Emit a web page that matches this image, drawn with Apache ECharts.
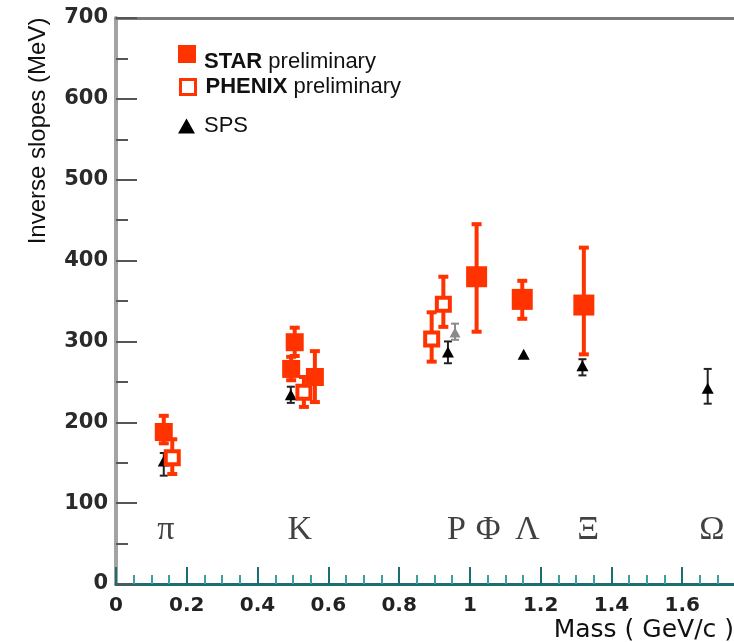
<!DOCTYPE html>
<html>
<head>
<meta charset="utf-8">
<script src="https://cdn.jsdelivr.net/npm/echarts@6/dist/echarts.min.js"></script>
<style>html,body{margin:0;padding:0;background:#fff;}#c{width:734px;height:642px;}</style>
</head>
<body>
<div id="c"></div>
<script>
// [mass (GeV), inverse slope (MeV), error low, error high]
const starPoints = [
  [0.135, 188, 174, 208],
  [0.505, 299, 282, 317],
  [0.495, 266, 252, 281],
  [0.562, 256, 225, 288],
  [1.019, 380, 312, 445],
  [1.148, 352, 328, 375],
  [1.322, 345, 284, 416]
];
const phenixPoints = [
  [0.159, 156, 136, 179],
  [0.531, 237, 219, 256],
  [0.892, 303, 275, 336],
  [0.925, 346, 318, 380]
];
const spsPoints = [
  [0.135, 152, 134, 162],
  [0.494, 234, 224, 244],
  [0.938, 287, 273, 300],
  [1.152, 284, 284, 284],
  [1.318, 270, 258, 278],
  [1.672, 242, 223, 266]
];
const spsGrayPoints = [
  [0.958, 311, 302, 322]
];
const particleNames = ['π', 'K', 'P', 'Φ', 'Λ', 'Ξ', 'Ω'];
const particleMass = [0.141, 0.519, 0.962, 1.052, 1.162, 1.334, 1.684];
const particleLabelSlope = 67;

const RED = '#ff3300';

function errorBars(name, pts, color, lineW, capW, capH, z) {
  return {
    type: 'custom', name: name, z: z, silent: true,
    data: pts.map(p => [p[0], p[2], p[3]]),
    encode: { x: 0, y: [1, 2] },
    renderItem: function (params, api) {
      const x = api.value(0);
      const lo = api.coord([x, api.value(1)]);
      const hi = api.coord([x, api.value(2)]);
      if (Math.abs(lo[1] - hi[1]) < 0.5) return { type: 'group', children: [] };
      return {
        type: 'group',
        children: [
          { type: 'rect', shape: { x: lo[0] - lineW / 2, y: hi[1], width: lineW, height: lo[1] - hi[1] }, style: { fill: color } },
          { type: 'rect', shape: { x: hi[0] - capW / 2, y: hi[1] - capH / 2, width: capW, height: capH }, style: { fill: color } },
          { type: 'rect', shape: { x: lo[0] - capW / 2, y: lo[1] - capH / 2, width: capW, height: capH }, style: { fill: color } }
        ]
      };
    }
  };
}

const chart = echarts.init(document.getElementById('c'), null, { renderer: 'canvas' });
const option = {
  animation: false,
  backgroundColor: '#ffffff',
  grid: { left: 116, top: 18, width: 637, height: 566, containLabel: false, outerBoundsMode: 'none' },
  xAxis: [{
    type: 'value', min: 0, max: 1.8, interval: 0.2, position: 'bottom',
    name: 'Mass ( GeV/c )', nameLocation: 'end', nameGap: -19,
    nameTextStyle: { align: 'right', verticalAlign: 'top', padding: [34, 0, 0, 0], fontFamily: 'DejaVu Sans', fontSize: 25, color: '#111' },
    axisLine: { show: true, onZero: false, lineStyle: { color: '#1a6e70', width: 3 } },
    axisTick: { show: true, inside: true, length: 17, lineStyle: { color: '#1a6e70', width: 2 } },
    minorTick: { show: true, splitNumber: 4, length: 9, lineStyle: { color: '#3f9fa0', width: 2 } },
    axisLabel: { margin: 12, showMaxLabel: false, fontFamily: 'DejaVu Sans', fontWeight: 'bold', fontSize: 20, color: '#222' },
    splitLine: { show: false }
  }, {
    type: 'value', min: 0, max: 1.8, position: 'top',
    axisLine: { show: true, onZero: false, lineStyle: { color: '#7a7a7a', width: 3 } },
    axisTick: { show: false }, axisLabel: { show: false }, splitLine: { show: false }
  }],
  yAxis: {
    type: 'value', min: 0, max: 700, interval: 100,
    axisLine: { show: true, lineStyle: { color: '#a3a3a3', width: 4 } },
    axisTick: { show: true, inside: true, length: 21, lineStyle: { color: '#555', width: 2 } },
    minorTick: { show: true, splitNumber: 2, length: 12, lineStyle: { color: '#555', width: 2 } },
    axisLabel: { margin: 8, fontFamily: 'DejaVu Sans', fontWeight: 'bold', fontSize: 21, color: '#2a2a2a' },
    splitLine: { show: false }
  },
  legend: [{
    data: ['STAR'], orient: 'vertical', left: 173, top: 40, itemWidth: 18, itemHeight: 18, selectedMode: false,
    formatter: function () { return '{b|STAR} preliminary'; },
    textStyle: { fontFamily: 'Liberation Sans', fontSize: 22, color: '#111', padding: [15, 0, 0, 3],
      rich: { b: { fontFamily: 'Liberation Sans', fontWeight: 'bold', fontSize: 22, color: '#111' } } }
  }, {
    data: [{ name: 'PHENIX', itemStyle: { borderWidth: 3 } }], orient: 'vertical', left: 174, top: 71, itemWidth: 15, itemHeight: 15, selectedMode: false,
    formatter: function () { return '{b|PHENIX} preliminary'; },
    textStyle: { fontFamily: 'Liberation Sans', fontSize: 22, color: '#111', padding: [0, 0, 0, 5],
      rich: { b: { fontFamily: 'Liberation Sans', fontWeight: 'bold', fontSize: 22, color: '#111' } } }
  }, {
    data: [{ name: 'SPS', icon: 'triangle' }], orient: 'vertical', left: 173, top: 110, itemWidth: 17, itemHeight: 15, selectedMode: false,
    textStyle: { fontFamily: 'Liberation Sans', fontSize: 22, color: '#111', padding: [0, 0, 0, 4] }
  }],
  graphic: [{
    type: 'text', x: 38, y: 131, rotation: Math.PI / 2, silent: true,
    style: { text: 'Inverse slopes (MeV)', align: 'center', verticalAlign: 'middle', fontFamily: 'Liberation Sans', fontSize: 24, fill: '#111' }
  }],
  series: [
    errorBars('SPS err', spsPoints, '#222', 2, 8, 2, 2),
    errorBars('SPS gray err', spsGrayPoints, '#8a8a8a', 2, 8, 2, 2),
    {
      type: 'scatter', name: 'SPS', z: 3, symbol: 'triangle', symbolSize: [12, 11],
      itemStyle: { color: '#000', opacity: 1 }, data: spsPoints.map(p => [p[0], p[1]])
    },
    {
      type: 'scatter', name: 'SPS gray', z: 3, symbol: 'triangle', symbolSize: [11, 10],
      itemStyle: { color: '#8a8a8a', opacity: 1 }, data: spsGrayPoints.map(p => [p[0], p[1]])
    },
    errorBars('STAR err', starPoints, RED, 4, 10, 4, 4),
    {
      type: 'scatter', name: 'STAR', z: 5, symbol: 'rect',
      symbolSize: function (v) { return v[0] > 0.8 ? 21 : 18; },
      itemStyle: { color: RED, opacity: 1 }, data: starPoints.map(p => [p[0], p[1]])
    },
    errorBars('PHENIX err', phenixPoints, RED, 4, 10, 4, 6),
    {
      type: 'scatter', name: 'PHENIX', z: 7, symbol: 'rect', symbolSize: 13,
      itemStyle: { color: '#ffffff', borderColor: RED, borderWidth: 4, opacity: 1 }, data: phenixPoints.map(p => [p[0], p[1]])
    },
    {
      type: 'scatter', name: 'labels', z: 8, silent: true, symbolSize: 1,
      itemStyle: { color: 'transparent' },
      label: { show: true, position: 'inside', formatter: '{b}', fontFamily: 'Liberation Serif', fontSize: 34, color: '#111' },
      data: particleMass.map((m, i) => ({ name: particleNames[i], value: [m, particleLabelSlope] }))
    }
  ]
};
chart.setOption(option);
</script>
</body>
</html>
